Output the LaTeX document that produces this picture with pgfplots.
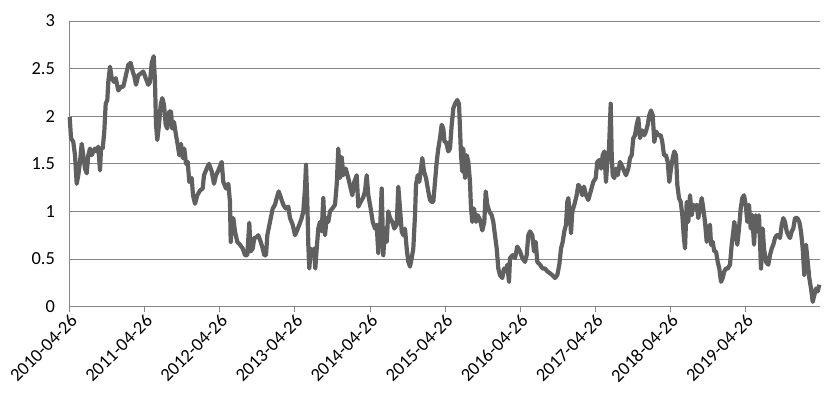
\documentclass[border=0pt]{standalone}
\usepackage{fontspec}
\setmainfont{Carlito}
\usepackage{pgfplots}
\pgfplotsset{compat=1.18}
\definecolor{linegray}{RGB}{96,96,96}
\definecolor{gridgray}{RGB}{134,134,134}
\begin{document}
\begin{tikzpicture}
\useasboundingbox (-69.5bp,-86.4bp) rectangle (765.5bp,306.6bp);
\begin{axis}[
  scale only axis,
  width=750.5bp, height=285.6bp,
  xmin=69.5, xmax=820,
  ymin=0, ymax=3,
  ytick={0,0.5,1,1.5,2,2.5,3},
  yticklabels={0,0.5,1,1.5,2,2.5,3},
  xtick={69.5,144.6,219.7,294.8,369.9,445.0,520.1,595.2,670.3,745.4},
  xticklabels={2010-04-26,2011-04-26,2012-04-26,2013-04-26,2014-04-26,2015-04-26,2016-04-26,2017-04-26,2018-04-26,2019-04-26},
  axis x line*=bottom,
  axis y line*=left,
  axis line style={draw=gridgray, line width=0.8bp},
  ymajorgrids,
  grid style={draw=gridgray, line width=0.8bp},
  ytick style={draw=none},
  xtick style={draw=gridgray, line width=0.8bp},
  tick align=outside,
  major tick length=5bp,
  /pgf/number format/assume math mode=true,
  tick label style={font=\fontsize{18.5}{22}\selectfont, text=black},
  yticklabel style={xshift=-6bp},
  xticklabel style={rotate=45, anchor=north east, inner sep=1bp},
  clip=false,
]
\addplot[linegray, line width=4.2bp, line join=round, no markers] coordinates {
(69.7,1.99) (71,1.77) (73.3,1.73) (75,1.59) (76.7,1.29) (78.3,1.38) (80,1.52) (81.7,1.71) (83.3,1.59) (85,1.45)
(86.7,1.40) (88.3,1.59) (90,1.66) (91.7,1.59) (93.3,1.63) (95,1.66) (96.7,1.63) (98.3,1.68) (100,1.43) (101,1.66)
(102.7,1.66) (104.3,1.84) (105.7,2.13) (107.3,2.17) (108.3,2.36) (110,2.52) (111.7,2.40) (114,2.36) (115.7,2.40) (118.3,2.27)
(121,2.31) (123.3,2.31) (125.7,2.42) (128.3,2.54) (130.7,2.56) (132.7,2.47) (134.3,2.42) (136,2.33) (138.3,2.43) (141,2.45)
(143.3,2.47) (145.7,2.40) (148.3,2.33) (150,2.36) (151.7,2.56) (153.7,2.63) (155,2.36) (156,1.91) (157.3,1.75) (159,1.91)
(160.7,2.12) (162.3,2.19) (164,2.12) (165.7,1.91) (167.3,1.87) (169.3,2.05) (171,2.05) (172.3,1.87) (174,1.94) (176,1.80)
(177.7,1.70) (179.3,1.59) (181,1.71) (182.7,1.56) (184.3,1.66) (186,1.50) (187.7,1.52) (189.3,1.31) (191.7,1.35) (193,1.17)
(195,1.08) (197.3,1.17) (200,1.22) (202.7,1.24) (204,1.38) (206.7,1.45) (209,1.50) (211.7,1.42) (214,1.29) (216,1.38)
(218.3,1.43) (221.7,1.52) (223.3,1.31) (226,1.24) (228.3,1.29) (230,1.10) (230.7,0.68) (231.7,0.82) (233.3,0.93) (235,0.79)
(237.3,0.68) (240,0.65) (242.7,0.61) (245,0.54) (247.3,0.54) (249.3,0.88) (250.7,0.58) (252.7,0.61) (254.3,0.72) (256.7,0.73)
(258.3,0.75) (260.7,0.68) (262.7,0.61) (264.3,0.54) (266,0.54) (267.3,0.75) (270,0.89) (272.7,1.03) (275,1.07) (276.7,1.14)
(278.7,1.21) (280.7,1.15) (283.3,1.07) (285.7,1.03) (288.3,1.05) (290,0.93) (292.7,0.86) (295,0.75) (296.7,0.79) (299.3,0.86)
(301.7,0.93) (303.3,1.00) (305,1.24) (306,1.49) (307.3,1.10) (308.3,0.65) (309.3,0.40) (310.7,0.61) (312.3,0.54) (314,0.61)
(315.3,0.40) (316.7,0.61) (318.3,0.82) (320,0.89) (321.7,0.79) (323.3,1.14) (325,0.75) (326.7,0.93) (328.3,0.89) (330,1.00)
(332.3,1.03) (335,1.07) (336.7,1.28) (338.3,1.66) (340,1.35) (341.7,1.57) (343.3,1.38) (345.7,1.45) (348.3,1.35) (350.7,1.24)
(352.3,1.17) (354.3,1.31) (356.7,1.38) (358.3,1.05) (360.7,1.10) (363.3,1.15) (365,1.21) (366.7,1.38) (368.3,1.17) (370.7,1.03)
(372.7,0.89) (375,0.82) (376.7,0.86) (378.3,0.56) (380,0.79) (381.7,1.24) (383.3,0.54) (385,0.82) (386.7,0.68) (388.3,1.00)
(390,0.93) (392.3,0.89) (394.3,0.82) (396.7,0.86) (398.3,1.26) (400,1.03) (401.7,0.79) (403.3,0.75) (405,0.82) (406.7,0.61)
(408.3,0.47) (410,0.42) (411.7,0.51) (413.3,0.61) (415,0.96) (416,1.28) (417.7,1.38) (419.3,1.31) (421,1.45) (422.3,1.56)
(424,1.42) (426,1.35) (428.3,1.21) (430,1.12) (431.7,1.10) (433.3,1.10) (435,1.31) (436.7,1.52) (438.3,1.66) (440,1.77)
(441.7,1.91) (443.3,1.87) (444.5,1.73) (446,1.73) (448.3,1.63) (450,1.66) (451.7,1.91) (453.3,2.08) (455,2.13) (457.3,2.17)
(459,2.13) (460,1.87) (461,1.59) (462.3,1.42) (463.3,1.66) (465,1.35) (466.7,1.59) (468.3,1.52) (470,1.31) (471,1.03)
(472.3,0.89) (474,1.03) (476,0.89) (477.7,0.96) (480,0.91) (482.3,0.80) (484.3,0.89) (485.7,1.21) (487.3,1.07) (489.3,1.00)
(491.7,0.96) (493.3,0.89) (495,0.75) (496.7,0.61) (498.3,0.40) (500,0.33) (502.3,0.30) (504,0.40) (505.7,0.37) (507.3,0.44)
(509,0.26) (510,0.51) (512.7,0.54) (515,0.51) (517.3,0.63) (520,0.58) (522.3,0.51) (525,0.47) (526.7,0.54) (528.3,0.75)
(530,0.79) (532.3,0.75) (534,0.58) (535.7,0.68) (537.3,0.47) (540,0.44) (542.7,0.40) (545,0.40) (547.3,0.37) (550,0.35)
(552.3,0.33) (555,0.30) (557.3,0.33) (559.3,0.44) (561,0.61) (562.7,0.68) (564.3,0.79) (566,0.86) (567.3,1.10) (568.3,1.14)
(570,0.96) (571,0.77) (572.3,1.00) (574.3,1.07) (576.7,1.17) (578.3,1.28) (580.7,1.24) (582.3,1.17) (584,1.26) (586,1.17)
(588.3,1.12) (590.7,1.21) (593.3,1.31) (595.7,1.35) (597.3,1.52) (599.3,1.54) (601,1.45) (602.7,1.59) (604.3,1.63) (606,1.31)
(607.3,1.52) (609,1.66) (610.7,2.13) (611.7,1.59) (612.7,1.38) (614.3,1.35) (616,1.45) (617.7,1.38) (620,1.52) (622.3,1.47)
(624.3,1.42) (626,1.38) (628.3,1.45) (630,1.56) (631.7,1.59) (633.3,1.77) (635,1.80) (636.7,1.91) (638.3,1.98) (640,1.77)
(642.3,1.85) (644.3,1.80) (646,1.84) (647.7,1.91) (649.3,2.01) (651,2.06) (652.7,2.01) (654.3,1.73) (656,1.84) (658.3,1.80)
(660.7,1.80) (662.3,1.73) (664,1.59) (666,1.59) (667.7,1.52) (669.3,1.31) (671,1.45) (672.7,1.56) (674.3,1.63) (676,1.59)
(677.3,1.28) (679,1.14) (680.7,1.10) (682.3,0.96) (683.7,0.75) (685,0.61) (686.7,1.10) (688.3,0.89) (690,1.17) (691.7,0.96)
(693.3,1.07) (695,1.03) (696.7,1.07) (698.3,0.93) (700,1.03) (701.7,1.14) (703.3,1.03) (705,0.89) (706.7,0.68) (708.3,0.82)
(710,0.86) (711,0.65) (712.7,0.68) (714.3,0.58) (716,0.58) (717.7,0.47) (719.3,0.40) (721,0.26) (722.7,0.30) (724.3,0.37)
(726,0.40) (727.7,0.40) (730,0.44) (731.7,0.65) (733.3,0.79) (734.3,0.89) (735.7,0.79) (737.3,0.65) (739,0.82) (740.7,1.03)
(742.3,1.14) (744,1.17) (745.7,1.07) (747.3,0.89) (749,1.07) (750.7,0.82) (752.3,0.96) (754,0.65) (755.7,0.96) (757.3,0.79)
(759,0.96) (761,0.40) (762.7,0.82) (764,0.61) (766,0.47) (768.3,0.44) (770,0.54) (771.7,0.61) (773.3,0.65) (775,0.72)
(776.7,0.75) (778.3,0.75) (780,0.72) (781.7,0.86) (783.3,0.93) (785,0.89) (786.7,0.79) (788.3,0.75) (790,0.72) (791.7,0.79)
(793.3,0.82) (795,0.93) (797.3,0.93) (799.3,0.89) (801,0.79) (802.7,0.61) (804.3,0.33) (806,0.65) (807.7,0.47) (809.3,0.30)
(811,0.19) (812.7,0.05) (814.3,0.12) (816,0.19) (817.7,0.16) (819.3,0.23)
};
\end{axis}
\end{tikzpicture}
\end{document}
